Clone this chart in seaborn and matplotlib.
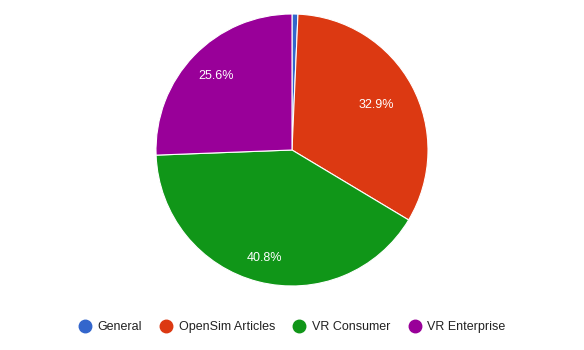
import matplotlib
matplotlib.use("Agg")
import matplotlib.pyplot as plt
from matplotlib.lines import Line2D
import numpy as np
import seaborn as sns

categories = ["General", "OpenSim Articles", "VR Consumer", "VR Enterprise"]
shares = [0.7, 32.9, 40.8, 25.6]
colors = ["#3366cc", "#dc3912", "#109618", "#990099"]

sns.set_theme(style="white")
plt.rcParams["font.family"] = ["Liberation Sans", "DejaVu Sans"]
palette = sns.color_palette(colors)

W, H = 584, 350
fig = plt.figure(figsize=(W / 100, H / 100), dpi=100)
fig.patch.set_facecolor("white")

# square axes holding the pie, placed in pixel units
cx, cy, r = 292, 150, 136
ax = fig.add_axes([(cx - r) / W, (H - cy - r) / H, 2 * r / W, 2 * r / H])
ax.axis("off")

wedges, _, autotexts = ax.pie(
    shares,
    colors=palette,
    startangle=90,
    counterclock=False,
    radius=1,
    autopct=lambda p: f"{p:.1f}%" if p >= 5 else "",
    pctdistance=0.78,
    wedgeprops=dict(edgecolor="white", linewidth=0.8),
    textprops=dict(color="white", fontsize=9),
    frame=False,
)
ax.set_xlim(-1, 1)
ax.set_ylim(-1, 1)

# per-slice label radius
label_radius = [0.0, 0.70, 0.82, 0.78]
for w, t, d in zip(wedges, autotexts, label_radius):
    mid = np.deg2rad((w.theta1 + w.theta2) / 2)
    t.set_position((d * np.cos(mid), d * np.sin(mid)))

handles = [
    Line2D([0], [0], marker="o", linestyle="none", markersize=9,
           markerfacecolor=c, markeredgecolor=c)
    for c in palette
]
fig.legend(
    handles, categories,
    loc="center", bbox_to_anchor=(0.5, (H - 327) / H),
    ncol=4, frameon=False, fontsize=9,
    handlelength=1.0, handletextpad=0.5, columnspacing=1.45,
    labelcolor="#222222",
)

fig.savefig("out.png", dpi=100, facecolor="white")
